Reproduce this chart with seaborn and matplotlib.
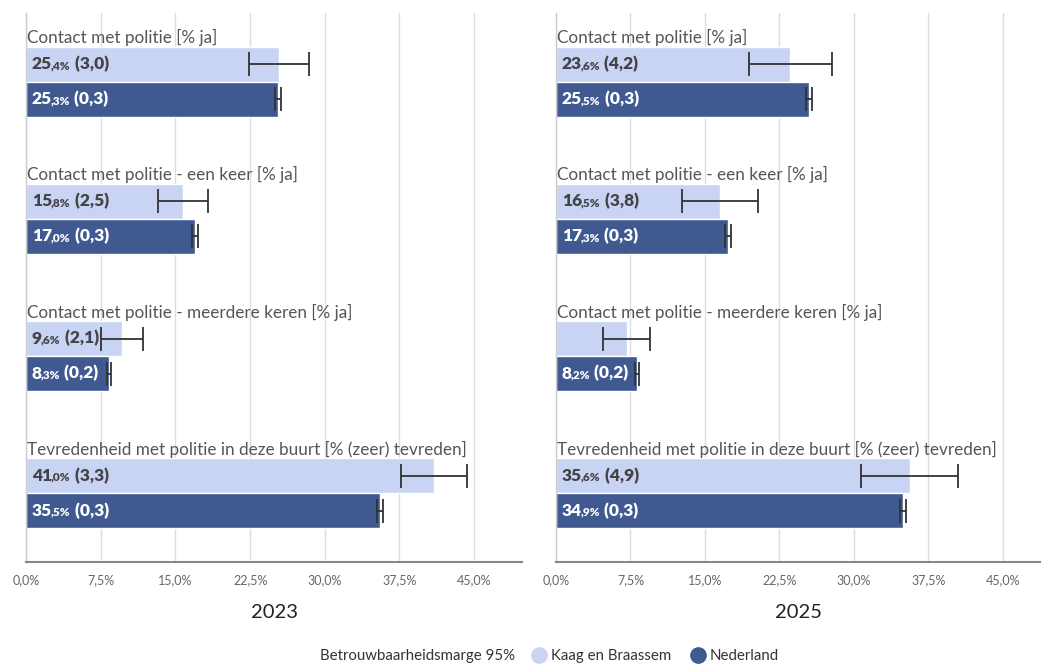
import pandas as pd
import seaborn as sns
import matplotlib.pyplot as plt
from matplotlib.lines import Line2D
from matplotlib.transforms import offset_copy

# data
questions = ["Contact met politie [% ja]",
             "Contact met politie - een keer [% ja]",
             "Contact met politie - meerdere keren [% ja]",
             "Tevredenheid met politie in deze buurt [% (zeer) tevreden]"]
regions = ["Kaag en Braassem", "Nederland"]
years = [2023, 2025]

kaag_2023 = [25.4, 15.8, 9.6, 41.0]
kaag_2023_marge = [3.0, 2.5, 2.1, 3.3]
nl_2023 = [25.3, 17.0, 8.3, 35.5]
nl_2023_marge = [0.3, 0.3, 0.2, 0.3]

kaag_2025 = [23.6, 16.5, 7.1, 35.6]
kaag_2025_marge = [4.2, 3.8, 2.4, 4.9]
nl_2025 = [25.5, 17.3, 8.2, 34.9]
nl_2025_marge = [0.3, 0.3, 0.2, 0.3]

# no value label shown for this bar in the reference
hidden = [(2025, questions[2], "Kaag en Braassem")]

ticks = [0, 7.5, 15, 22.5, 30, 37.5, 45]

rows = []
for yr, kv, km, nv, nm in [(2023, kaag_2023, kaag_2023_marge, nl_2023, nl_2023_marge),
                           (2025, kaag_2025, kaag_2025_marge, nl_2025, nl_2025_marge)]:
    for q, a, b, c, d in zip(questions, kv, km, nv, nm):
        rows.append(dict(jaar=yr, vraag=q, regio=regions[0], waarde=a, marge=b))
        rows.append(dict(jaar=yr, vraag=q, regio=regions[1], waarde=c, marge=d))
df = pd.DataFrame(rows)

light = "#c9d4f5"
dark = "#405991"
palette = {regions[0]: light, regions[1]: dark}

sns.set_theme(style="white")
plt.rcParams["font.family"] = ["Lato", "DejaVu Sans"]

fig = plt.figure(figsize=(10.41, 6.64), dpi=100)
W, H = 1041, 664
top_px, bot_px = 13, 562
axes_pos = [(26, 522, 49.8), (556, 1041, 48.84)]

renderer = fig.canvas.get_renderer()


def fmt(v):
    return f"{v:.1f}".replace(".", ",")


def label(ax, x0, y, value, marge, color):
    whole, dec = fmt(value).split(",")
    # (text, font size, extra gap after it in pixels)
    pieces = [(whole, 12.5, -1.5), ("," + dec + "%", 8.5, 0.5),
              (" (" + fmt(marge) + ")", 12.5, 0)]
    off = 6
    for txt, size, gap in pieces:
        tr = offset_copy(ax.transData, fig=fig, x=off, y=-5, units="dots")
        t = ax.text(x0, y, txt, transform=tr, fontsize=size, fontweight="heavy",
                    color=color, va="baseline", ha="left")
        off += t.get_window_extent(renderer).width + gap


for yr, (l, r, xmax) in zip(years, axes_pos):
    ax = fig.add_axes([l / W, 1 - bot_px / H, (r - l) / W, (bot_px - top_px) / H])
    sub = df[df.jaar == yr]
    sns.barplot(data=sub, y="vraag", x="waarde", hue="regio", order=questions,
                hue_order=regions, palette=palette, orient="h", width=0.51,
                errorbar=None, legend=False, saturation=1, ax=ax, zorder=2)

    for k, reg in enumerate(regions):
        part = sub[sub.regio == reg].set_index("vraag").loc[questions]
        for bar, q in zip(ax.containers[k], questions):
            v = part.loc[q, "waarde"]
            m = part.loc[q, "marge"]
            yc = bar.get_y() + bar.get_height() / 2
            ax.errorbar(v, yc, xerr=m, color="#333333", lw=1.3, capsize=8.5,
                        capthick=1.3, zorder=3)
            if (yr, q, reg) not in hidden:
                label(ax, 0, yc, v, m, "#444444" if k == 0 else "white")

    for i, q in enumerate(questions):
        tr = offset_copy(ax.transData, fig=fig, x=1, y=0, units="dots")
        ax.text(0, i - 0.32, q, transform=tr, fontsize=12.3, color="#555555",
                va="center", ha="left")

    ax.set_xlim(0, xmax)
    ax.set_ylim(3.5, -0.5)
    ax.set_xticks(ticks)
    ax.set_xticklabels([fmt(t) + "%" for t in ticks], fontsize=9, color="#666666")
    ax.set_yticks([])
    ax.set_xlabel("")
    ax.set_ylabel("")
    ax.grid(axis="x", color="#dddddd", lw=1, zorder=0)
    ax.tick_params(axis="x", length=0, pad=9)
    for s in ["top", "right"]:
        ax.spines[s].set_visible(False)
    ax.spines["left"].set_color("#cccccc")
    ax.spines["left"].set_linewidth(1)
    ax.spines["bottom"].set_color("#888888")
    ax.spines["bottom"].set_linewidth(1.5)
    ax.set_facecolor("white")
    fig.text((l + r) / 2 / W, 1 - 613 / H, str(yr), fontsize=14.5, color="#222222",
             ha="center", va="center")

fig.text(418 / W, 1 - 656 / H, "Betrouwbaarheidsmarge 95%", fontsize=10.8,
         color="#333333", ha="center", va="center")
handles = [Line2D([], [], marker="o", ls="", color=light, markersize=11),
           Line2D([], [], marker="o", ls="", color=dark, markersize=11)]
fig.legend(handles, regions, loc="center", bbox_to_anchor=(655 / W, 1 - 656 / H),
           ncol=2, frameon=False, fontsize=10.8, handletextpad=0.3, columnspacing=1.3,
           handlelength=1, labelcolor="#333333")

fig.savefig("out.png", dpi=100, facecolor="white")
